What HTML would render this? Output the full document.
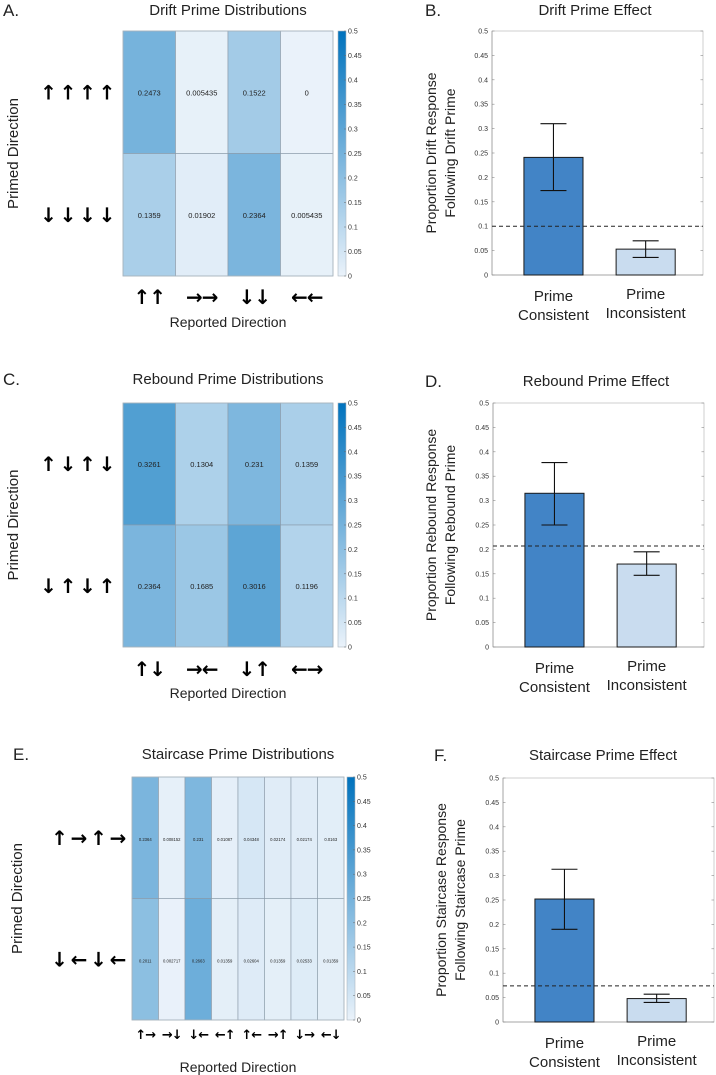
<!DOCTYPE html>
<html><head><meta charset="utf-8"><style>
html,body{margin:0;padding:0;background:#fff;}
svg{display:block;font-family:"Liberation Sans",sans-serif;}
</style></head><body>
<svg id="fig" width="716" height="1075" viewBox="0 0 716 1075" xmlns="http://www.w3.org/2000/svg"></svg>
<script>
// ---- Heatmap data ----
const driftValues = [[0.2473, 0.005435, 0.1522, 0], [0.1359, 0.01902, 0.2364, 0.005435]];
const driftLabels = [["0.2473","0.005435","0.1522","0"],["0.1359","0.01902","0.2364","0.005435"]];
const driftRows = ["↑ ↑ ↑ ↑", "↓ ↓ ↓ ↓"];
const driftCols = ["↑↑", "→→", "↓↓", "←←"];

const reboundValues = [[0.3261, 0.1304, 0.231, 0.1359], [0.2364, 0.1685, 0.3016, 0.1196]];
const reboundLabels = [["0.3261","0.1304","0.231","0.1359"],["0.2364","0.1685","0.3016","0.1196"]];
const reboundRows = ["↑ ↓ ↑ ↓", "↓ ↑ ↓ ↑"];
const reboundCols = ["↑↓", "→←", "↓↑", "←→"];

const stairValues = [[0.2364, 0.008152, 0.231, 0.01087, 0.04348, 0.02174, 0.02174, 0.0163],
                     [0.2011, 0.002717, 0.2663, 0.01359, 0.02604, 0.01359, 0.02533, 0.01359]];
const stairLabels = [["0.2364","0.008152","0.231","0.01087","0.04348","0.02174","0.02174","0.0163"],
                     ["0.2011","0.002717","0.2663","0.01359","0.02604","0.01359","0.02533","0.01359"]];
const stairRows = ["↑ → ↑ →", "↓ ← ↓ ←"];
const stairCols = ["↑→", "→↓", "↓←", "←↑", "↑←", "→↑", "↓→", "←↓"];

const cbTicks = [0, 0.05, 0.1, 0.15, 0.2, 0.25, 0.3, 0.35, 0.4, 0.45, 0.5];

// ---- Bar data ----
const barCategories = [["Prime","Consistent"], ["Prime","Inconsistent"]];
const driftMeans = [0.241, 0.053];
const driftErrLo = [0.173, 0.036];
const driftErrHi = [0.310, 0.070];
const driftChance = [0.1];
const reboundMeans = [0.315, 0.170];
const reboundErrLo = [0.250, 0.147];
const reboundErrHi = [0.378, 0.195];
const reboundChance = [0.207];
const stairMeans = [0.252, 0.048];
const stairErrLo = [0.190, 0.040];
const stairErrHi = [0.313, 0.057];
const stairChance = [0.074];
const yTicks = [0, 0.05, 0.1, 0.15, 0.2, 0.25, 0.3, 0.35, 0.4, 0.45, 0.5];

const NS = "http://www.w3.org/2000/svg";
const svg = document.getElementById('fig');
function el(tag, attrs, parent, text) {
  const e = document.createElementNS(NS, tag);
  for (const k in attrs) e.setAttribute(k, attrs[k]);
  if (text !== undefined) e.textContent = text;
  (parent || svg).appendChild(e);
  return e;
}
function color(v) {
  const t = Math.max(0, Math.min(1, v / 0.5));
  const a = [234, 242, 250], b = [0, 114, 189];
  const c = a.map((x, i) => Math.round(x + (b[i] - x) * t));
  return `rgb(${c[0]},${c[1]},${c[2]})`;
}

function heatmap(o) {
  const g = el('g', {});
  
  
  const nR = o.values.length, nC = o.values[0].length;
  const cw = (o.x1 - o.x0) / nC, rh = (o.y1 - o.y0) / nR;
  const xs = c => o.x0 + c * cw, ys = r => o.y0 + r * rh;
  let t = el('text', {x: o.label.x, y: o.label.y, 'font-size': 17, fill: '#222'}, g, o.label.t);
   
  t = el('text', {x: (o.x0 + o.x1) / 2, y: o.titleY, 'font-size': 15, 'text-anchor': 'middle', fill: '#222'}, g, o.title);
   
  for (let r = 0; r < nR; r++) for (let c = 0; c < nC; c++) {
    const rc = el('rect', {x: xs(c), y: ys(r), width: cw, height: rh, fill: color(o.values[r][c]), stroke: '#8a9aa8', 'stroke-width': 0.6}, g);
     
    const tx = el('text', {x: xs(c) + cw / 2, y: ys(r) + rh / 2 + 3, 'font-size': o.fs, 'text-anchor': 'middle', fill: '#222'}, g, o.labels[r][c]);
     
  }
  el('rect', {x: o.x0, y: o.y0, width: o.x1 - o.x0, height: o.y1 - o.y0, fill: 'none', stroke: '#aab6c0', 'stroke-width': 0.8}, g);
  o.rows.forEach((s, r) => {
    const parts = s.split(' ');
    const rg = el('g', {}, g);
     
    parts.forEach((p, i) => {
      const x = o.rowX - (parts.length - 1 - i) * o.rowStep;
      el('text', {x: x, y: ys(r) + rh / 2 + 7, 'font-size': 20, 'font-weight': 'bold', 'text-anchor': 'middle', 'font-family': 'DejaVu Sans', fill: '#000'}, rg, p);
    });
  });
  o.cols.forEach((s, c) => {
    const tx = el('text', {x: xs(c) + cw / 2, y: o.colY, 'font-size': o.colFs, 'font-weight': 'bold', 'text-anchor': 'middle', 'font-family': 'DejaVu Sans', fill: '#000', 'letter-spacing': -1}, g, s);
     
  });
  t = el('text', {x: (o.x0 + o.x1) / 2, y: o.xTitleY, 'font-size': 14, 'text-anchor': 'middle', fill: '#222'}, g, 'Reported Direction');
   
  const cy = (o.y0 + o.y1) / 2;
  t = el('text', {x: o.yTitleX, y: cy, 'font-size': 15, 'text-anchor': 'middle', fill: '#222', transform: `rotate(-90 ${o.yTitleX} ${cy})`}, g, 'Primed Direction');
   
  const cb = el('g', {}, g);
   
  const gid = 'grad' + o.name;
  const defs = el('defs', {}, cb);
  const lg = el('linearGradient', {id: gid, x1: 0, y1: 1, x2: 0, y2: 0}, defs);
  el('stop', {offset: 0, 'stop-color': color(0)}, lg);
  el('stop', {offset: 1, 'stop-color': color(0.5)}, lg);
  el('rect', {x: o.cbX, y: o.y0, width: 8, height: o.y1 - o.y0, fill: `url(#${gid})`, stroke: '#aab6c0', 'stroke-width': 0.6}, cb);
  const cys = v => o.y1 - v / 0.5 * (o.y1 - o.y0);
  cbTicks.forEach(v => {
    el('line', {x1: o.cbX + 6, x2: o.cbX + 8, y1: cys(v), y2: cys(v), stroke: '#666', 'stroke-width': 0.5}, cb);
    const tx = el('text', {x: o.cbX + 10, y: cys(v) + 2.5, 'font-size': 7, fill: '#333'}, cb, String(v));
     
  });
}

function bars(o) {
  const g = el('g', {});
  
  
  const ys = v => o.y1 - v / 0.5 * (o.y1 - o.y0);
  let t = el('text', {x: o.label.x, y: o.label.y, 'font-size': 17, fill: '#222'}, g, o.label.t);
   
  t = el('text', {x: o.titleX, y: o.titleY, 'font-size': 15, 'text-anchor': 'middle', fill: '#222'}, g, o.title);
   
  el('rect', {x: o.x0, y: o.y0, width: o.x1 - o.x0, height: o.y1 - o.y0, fill: 'none', stroke: '#c4c4c4', 'stroke-width': 0.8}, g);
  el('line', {x1: o.x0, x2: o.x0, y1: o.y0, y2: o.y1, stroke: '#999', 'stroke-width': 0.8}, g);
  el('line', {x1: o.x0, x2: o.x1, y1: o.y1, y2: o.y1, stroke: '#999', 'stroke-width': 0.8}, g);
  yTicks.forEach(v => {
    el('line', {x1: o.x0, x2: o.x0 + 2.5, y1: ys(v), y2: ys(v), stroke: '#888', 'stroke-width': 0.6}, g);
    el('line', {x1: o.x1 - 2.5, x2: o.x1, y1: ys(v), y2: ys(v), stroke: '#888', 'stroke-width': 0.6}, g);
    const tx = el('text', {x: o.x0 - 4, y: ys(v) + 2.5, 'font-size': 7, 'text-anchor': 'end', fill: '#333'}, g, String(v));
     
  });
  const w = o.x1 - o.x0;
  const centers = [o.x0 + w * 0.2913, o.x0 + w * 0.7282];
  const bw = w * 0.28;
  const fills = ['#4284c6', '#c9dcef'];
  o.means.forEach((m, i) => {
    const cx = centers[i];
    const b = el('rect', {x: cx - bw / 2, y: ys(m), width: bw, height: ys(0) - ys(m), fill: fills[i], stroke: '#1a1a1a', 'stroke-width': 1}, g);
    
    
    const eg = el('g', {stroke: '#111', 'stroke-width': 1.1}, g);
     
    el('line', {x1: cx, x2: cx, y1: ys(o.lo[i]), y2: ys(o.hi[i])}, eg);
    el('line', {x1: cx - 13, x2: cx + 13, y1: ys(o.lo[i]), y2: ys(o.lo[i])}, eg);
    el('line', {x1: cx - 13, x2: cx + 13, y1: ys(o.hi[i]), y2: ys(o.hi[i])}, eg);
    barCategories[i].forEach((s, k) => {
      const tx = el('text', {x: cx, y: o.y1 + 26 + k * 19 - (i === 1 ? 2 : 0), 'font-size': 15, 'text-anchor': 'middle', fill: '#222'}, g, s);
       
    });
  });
  const d = el('line', {x1: o.x0, x2: o.x1, y1: ys(o.chance[0]), y2: ys(o.chance[0]), stroke: '#222', 'stroke-width': 1, 'stroke-dasharray': '4,3'}, g);
   
  const cy = (o.y0 + o.y1) / 2;
  o.ylab.forEach((s, k) => {
    const x = o.ylabX + k * 19;
    const tx = el('text', {x: x, y: cy, 'font-size': 14, 'text-anchor': 'middle', fill: '#222', transform: `rotate(-90 ${x} ${cy})`}, g, s);
     
  });
}

heatmap({name: 'drift-heatmap', values: driftValues, labels: driftLabels, rows: driftRows, cols: driftCols,
  x0: 123, x1: 333, y0: 31, y1: 276, cbX: 338, fs: 7.5, colFs: 20, rowX: 107, rowStep: 19.5, colY: 304, xTitleY: 327, yTitleX: 18,
  title: 'Drift Prime Distributions', titleY: 15, label: {x: 3, y: 16, t: 'A.'}});
heatmap({name: 'rebound-heatmap', values: reboundValues, labels: reboundLabels, rows: reboundRows, cols: reboundCols,
  x0: 123, x1: 333, y0: 403, y1: 647, cbX: 338, fs: 7.5, colFs: 20, rowX: 107, rowStep: 19.5, colY: 676, xTitleY: 698, yTitleX: 18,
  title: 'Rebound Prime Distributions', titleY: 384, label: {x: 3, y: 385, t: 'C.'}});
heatmap({name: 'staircase-heatmap', values: stairValues, labels: stairLabels, rows: stairRows, cols: stairCols,
  x0: 132, x1: 344, y0: 777, y1: 1020, cbX: 347, fs: 4.2, colFs: 13, rowX: 118, rowStep: 19.5, colY: 1039, xTitleY: 1072, yTitleX: 22,
  title: 'Staircase Prime Distributions', titleY: 759, label: {x: 13, y: 760, t: 'E.'}});

bars({name: 'drift-effect-chart', means: driftMeans, lo: driftErrLo, hi: driftErrHi, chance: driftChance,
  x0: 492, x1: 703, y0: 31, y1: 275, title: 'Drift Prime Effect', titleX: 595, titleY: 15, label: {x: 425, y: 16, t: 'B.'},
  ylab: ['Proportion Drift Response', 'Following Drift Prime'], ylabX: 436});
bars({name: 'rebound-effect-chart', means: reboundMeans, lo: reboundErrLo, hi: reboundErrHi, chance: reboundChance,
  x0: 493, x1: 704, y0: 403, y1: 647, title: 'Rebound Prime Effect', titleX: 596, titleY: 386, label: {x: 425, y: 387, t: 'D.'},
  ylab: ['Proportion Rebound Response', 'Following Rebound Prime'], ylabX: 436});
bars({name: 'staircase-effect-chart', means: stairMeans, lo: stairErrLo, hi: stairErrHi, chance: stairChance,
  x0: 503, x1: 714, y0: 778, y1: 1022, title: 'Staircase Prime Effect', titleX: 603, titleY: 760, label: {x: 434, y: 761, t: 'F.'},
  ylab: ['Proportion Staircase Response', 'Following Staircase Prime'], ylabX: 446});
</script>
</body></html>
